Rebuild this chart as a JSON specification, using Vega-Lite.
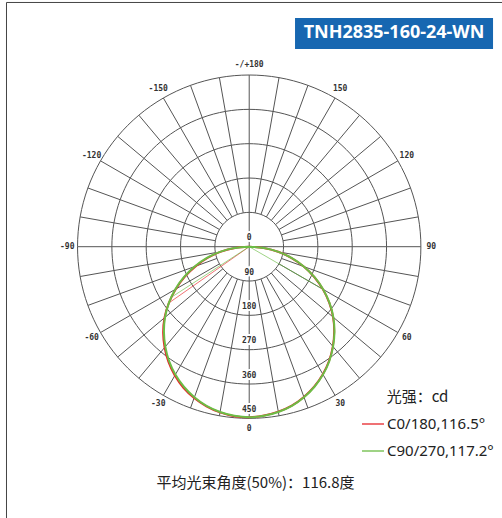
{
  "$schema": "https://vega.github.io/schema/vega-lite/v6.json",
  "width": 502,
  "height": 518,
  "autosize": {"type": "none"},
  "padding": 0,
  "background": "white",
  "config": {"view": {"stroke": null}},
  "datasets": {
    "rings": [
      {"r": 90, "a": [0,10,20,30,40,50,60,70,80,90,100,110,120,130,140,150,160,170,180,190,200,210,220,230,240,250,260,270,280,290,300,310,320,330,340,350]},
      {"r": 180, "a": [0,10,20,30,40,50,60,70,80,90,100,110,120,130,140,150,160,170,180,190,200,210,220,230,240,250,260,270,280,290,300,310,320,330,340,350]},
      {"r": 270, "a": [0,10,20,30,40,50,60,70,80,90,100,110,120,130,140,150,160,170,180,190,200,210,220,230,240,250,260,270,280,290,300,310,320,330,340,350]},
      {"r": 360, "a": [0,10,20,30,40,50,60,70,80,90,100,110,120,130,140,150,160,170,180,190,200,210,220,230,240,250,260,270,280,290,300,310,320,330,340,350]},
      {"r": 450, "a": [0,10,20,30,40,50,60,70,80,90,100,110,120,130,140,150,160,170,180,190,200,210,220,230,240,250,260,270,280,290,300,310,320,330,340,350]}
    ],
    "spokes": [
      {"a": 0, "r0": 0, "r1": 450}, {"a": 10, "r0": 90, "r1": 450}, {"a": 20, "r0": 90, "r1": 450},
      {"a": 30, "r0": 90, "r1": 450}, {"a": 40, "r0": 90, "r1": 450}, {"a": 50, "r0": 90, "r1": 450},
      {"a": 60, "r0": 90, "r1": 450}, {"a": 70, "r0": 90, "r1": 450}, {"a": 80, "r0": 90, "r1": 450},
      {"a": 90, "r0": 0, "r1": 450}, {"a": 100, "r0": 90, "r1": 450}, {"a": 110, "r0": 90, "r1": 450},
      {"a": 120, "r0": 90, "r1": 450}, {"a": 130, "r0": 90, "r1": 450}, {"a": 140, "r0": 90, "r1": 450},
      {"a": 150, "r0": 90, "r1": 450}, {"a": 160, "r0": 90, "r1": 450}, {"a": 170, "r0": 90, "r1": 450},
      {"a": 180, "r0": 0, "r1": 450}, {"a": 190, "r0": 90, "r1": 450}, {"a": 200, "r0": 90, "r1": 450},
      {"a": 210, "r0": 90, "r1": 450}, {"a": 220, "r0": 90, "r1": 450}, {"a": 230, "r0": 90, "r1": 450},
      {"a": 240, "r0": 90, "r1": 450}, {"a": 250, "r0": 90, "r1": 450}, {"a": 260, "r0": 90, "r1": 450},
      {"a": 270, "r0": 0, "r1": 450}, {"a": 280, "r0": 90, "r1": 450}, {"a": 290, "r0": 90, "r1": 450},
      {"a": 300, "r0": 90, "r1": 450}, {"a": 310, "r0": 90, "r1": 450}, {"a": 320, "r0": 90, "r1": 450},
      {"a": 330, "r0": 90, "r1": 450}, {"a": 340, "r0": 90, "r1": 450}, {"a": 350, "r0": 90, "r1": 450}
    ],
    "alab": [
      {"a": 0, "t": "0"}, {"a": 30, "t": "30"}, {"a": 60, "t": "60"}, {"a": 90, "t": "90"},
      {"a": 120, "t": "120"}, {"a": 150, "t": "150"}, {"a": 180, "t": "-/+180"},
      {"a": -150, "t": "-150"}, {"a": -120, "t": "-120"}, {"a": -90, "t": "-90"},
      {"a": -60, "t": "-60"}, {"a": -30, "t": "-30"}
    ],
    "ilab": [{"v": 0}, {"v": 90}, {"v": 180}, {"v": 270}, {"v": 360}, {"v": 450}],
    "beams": [
      {"s": "C0/180,116.5°", "a": -55, "i": 257},
      {"s": "C90/270,117.2°", "a": -57, "i": 243},
      {"s": "C90/270,117.2°", "a": 60, "i": 224}
    ],
    "curves": [
      {"s": "C0/180,116.5°", "a": -90, "i": 0}, {"s": "C0/180,116.5°", "a": -85, "i": 37},
      {"s": "C0/180,116.5°", "a": -80, "i": 75}, {"s": "C0/180,116.5°", "a": -75, "i": 112},
      {"s": "C0/180,116.5°", "a": -70, "i": 149}, {"s": "C0/180,116.5°", "a": -65, "i": 186},
      {"s": "C0/180,116.5°", "a": -60, "i": 222}, {"s": "C0/180,116.5°", "a": -55, "i": 257},
      {"s": "C0/180,116.5°", "a": -50, "i": 290}, {"s": "C0/180,116.5°", "a": -45, "i": 319},
      {"s": "C0/180,116.5°", "a": -40, "i": 345}, {"s": "C0/180,116.5°", "a": -35, "i": 369},
      {"s": "C0/180,116.5°", "a": -30, "i": 390}, {"s": "C0/180,116.5°", "a": -25, "i": 408},
      {"s": "C0/180,116.5°", "a": -20, "i": 422}, {"s": "C0/180,116.5°", "a": -15, "i": 433},
      {"s": "C0/180,116.5°", "a": -10, "i": 441}, {"s": "C0/180,116.5°", "a": -5, "i": 446},
      {"s": "C0/180,116.5°", "a": 0, "i": 447}, {"s": "C0/180,116.5°", "a": 5, "i": 444},
      {"s": "C0/180,116.5°", "a": 10, "i": 439}, {"s": "C0/180,116.5°", "a": 15, "i": 431},
      {"s": "C0/180,116.5°", "a": 20, "i": 419}, {"s": "C0/180,116.5°", "a": 25, "i": 404},
      {"s": "C0/180,116.5°", "a": 30, "i": 386}, {"s": "C0/180,116.5°", "a": 35, "i": 365},
      {"s": "C0/180,116.5°", "a": 40, "i": 341}, {"s": "C0/180,116.5°", "a": 45, "i": 315},
      {"s": "C0/180,116.5°", "a": 50, "i": 287}, {"s": "C0/180,116.5°", "a": 55, "i": 256},
      {"s": "C0/180,116.5°", "a": 60, "i": 223}, {"s": "C0/180,116.5°", "a": 65, "i": 188},
      {"s": "C0/180,116.5°", "a": 70, "i": 152}, {"s": "C0/180,116.5°", "a": 75, "i": 115},
      {"s": "C0/180,116.5°", "a": 80, "i": 77}, {"s": "C0/180,116.5°", "a": 85, "i": 38},
      {"s": "C0/180,116.5°", "a": 90, "i": 0},
      {"s": "C90/270,117.2°", "a": -90, "i": 0}, {"s": "C90/270,117.2°", "a": -85, "i": 39},
      {"s": "C90/270,117.2°", "a": -80, "i": 78}, {"s": "C90/270,117.2°", "a": -75, "i": 116},
      {"s": "C90/270,117.2°", "a": -70, "i": 153}, {"s": "C90/270,117.2°", "a": -65, "i": 189},
      {"s": "C90/270,117.2°", "a": -60, "i": 224}, {"s": "C90/270,117.2°", "a": -55, "i": 257},
      {"s": "C90/270,117.2°", "a": -50, "i": 288}, {"s": "C90/270,117.2°", "a": -45, "i": 316},
      {"s": "C90/270,117.2°", "a": -40, "i": 342}, {"s": "C90/270,117.2°", "a": -35, "i": 366},
      {"s": "C90/270,117.2°", "a": -30, "i": 387}, {"s": "C90/270,117.2°", "a": -25, "i": 405},
      {"s": "C90/270,117.2°", "a": -20, "i": 420}, {"s": "C90/270,117.2°", "a": -15, "i": 432},
      {"s": "C90/270,117.2°", "a": -10, "i": 440}, {"s": "C90/270,117.2°", "a": -5, "i": 445},
      {"s": "C90/270,117.2°", "a": 0, "i": 447}, {"s": "C90/270,117.2°", "a": 5, "i": 445},
      {"s": "C90/270,117.2°", "a": 10, "i": 440}, {"s": "C90/270,117.2°", "a": 15, "i": 432},
      {"s": "C90/270,117.2°", "a": 20, "i": 420}, {"s": "C90/270,117.2°", "a": 25, "i": 405},
      {"s": "C90/270,117.2°", "a": 30, "i": 387}, {"s": "C90/270,117.2°", "a": 35, "i": 366},
      {"s": "C90/270,117.2°", "a": 40, "i": 342}, {"s": "C90/270,117.2°", "a": 45, "i": 316},
      {"s": "C90/270,117.2°", "a": 50, "i": 288}, {"s": "C90/270,117.2°", "a": 55, "i": 257},
      {"s": "C90/270,117.2°", "a": 60, "i": 224}, {"s": "C90/270,117.2°", "a": 65, "i": 189},
      {"s": "C90/270,117.2°", "a": 70, "i": 153}, {"s": "C90/270,117.2°", "a": 75, "i": 116},
      {"s": "C90/270,117.2°", "a": 80, "i": 78}, {"s": "C90/270,117.2°", "a": 85, "i": 39},
      {"s": "C90/270,117.2°", "a": 90, "i": 0}
    ]
  },
  "layer": [
    {
      "data": {"name": "rings"},
      "transform": [
        {"flatten": ["a"]},
        {"calculate": "datum.r*sin(datum.a*PI/180)", "as": "x"},
        {"calculate": "-datum.r*cos(datum.a*PI/180)", "as": "y"}
      ],
      "mark": {"type": "line", "stroke": "#555555", "strokeWidth": 1, "interpolate": "cardinal-closed"},
      "encoding": {
        "x": {"field": "x", "type": "quantitative", "scale": {"domain": [-653.2, 662.6], "nice": false, "zero": false}, "axis": null},
        "y": {"field": "y", "type": "quantitative", "scale": {"domain": [-711.1, 646.6], "nice": false, "zero": false}, "axis": null},
        "detail": {"field": "r", "type": "nominal"},
        "order": {"field": "a", "type": "quantitative"}
      }
    },
    {
      "data": {"name": "spokes"},
      "transform": [
        {"calculate": "datum.r0*sin(datum.a*PI/180)", "as": "x0"},
        {"calculate": "-datum.r0*cos(datum.a*PI/180)", "as": "y0"},
        {"calculate": "datum.r1*sin(datum.a*PI/180)", "as": "x1"},
        {"calculate": "-datum.r1*cos(datum.a*PI/180)", "as": "y1"}
      ],
      "mark": {"type": "rule", "stroke": "#555555", "strokeWidth": 1},
      "encoding": {
        "x": {"field": "x0", "type": "quantitative", "scale": {"domain": [-653.2, 662.6], "nice": false, "zero": false}, "axis": null},
        "y": {"field": "y0", "type": "quantitative", "scale": {"domain": [-711.1, 646.6], "nice": false, "zero": false}, "axis": null},
        "x2": {"field": "x1"},
        "y2": {"field": "y1"}
      }
    },
    {
      "data": {"name": "alab"},
      "transform": [
        {"calculate": "477*sin(datum.a*PI/180)", "as": "x"},
        {"calculate": "-477*cos(datum.a*PI/180)", "as": "y"}
      ],
      "mark": {"type": "text", "font": "DejaVu Sans Mono", "fontWeight": "bold", "fontSize": 8, "fill": "#333333", "align": "center", "baseline": "middle"},
      "encoding": {
        "x": {"field": "x", "type": "quantitative", "scale": {"domain": [-653.2, 662.6], "nice": false, "zero": false}, "axis": null},
        "y": {"field": "y", "type": "quantitative", "scale": {"domain": [-711.1, 646.6], "nice": false, "zero": false}, "axis": null},
        "text": {"field": "t", "type": "nominal"}
      }
    },
    {
      "data": {"name": "ilab"},
      "transform": [{"calculate": "-datum.v", "as": "y"}, {"calculate": "0", "as": "x"}, {"calculate": "''+datum.v", "as": "t"}],
      "mark": {"type": "text", "font": "DejaVu Sans Mono", "fontWeight": "bold", "fontSize": 8, "fill": "white", "stroke": "white", "strokeWidth": 4, "align": "center", "baseline": "middle", "dy": -8.5},
      "encoding": {
        "x": {"field": "x", "type": "quantitative", "scale": {"domain": [-653.2, 662.6], "nice": false, "zero": false}, "axis": null},
        "y": {"field": "y", "type": "quantitative", "scale": {"domain": [-711.1, 646.6], "nice": false, "zero": false}, "axis": null},
        "text": {"field": "t", "type": "nominal"}
      }
    },
    {
      "data": {"name": "ilab"},
      "transform": [{"calculate": "-datum.v", "as": "y"}, {"calculate": "0", "as": "x"}, {"calculate": "''+datum.v", "as": "t"}],
      "mark": {"type": "text", "font": "DejaVu Sans Mono", "fontWeight": "bold", "fontSize": 8, "fill": "#333333", "align": "center", "baseline": "middle", "dy": -8.5},
      "encoding": {
        "x": {"field": "x", "type": "quantitative", "scale": {"domain": [-653.2, 662.6], "nice": false, "zero": false}, "axis": null},
        "y": {"field": "y", "type": "quantitative", "scale": {"domain": [-711.1, 646.6], "nice": false, "zero": false}, "axis": null},
        "text": {"field": "t", "type": "nominal"}
      }
    },
    {
      "data": {"name": "beams"},
      "transform": [
        {"calculate": "0", "as": "cx"},
        {"calculate": "0", "as": "cy"},
        {"calculate": "datum.i*sin(datum.a*PI/180)", "as": "bx"},
        {"calculate": "-datum.i*cos(datum.a*PI/180)", "as": "by"}
      ],
      "mark": {"type": "rule", "strokeWidth": 1, "opacity": 0.65},
      "encoding": {
        "x": {"field": "cx", "type": "quantitative", "scale": {"domain": [-653.2, 662.6], "nice": false, "zero": false}, "axis": null},
        "y": {"field": "cy", "type": "quantitative", "scale": {"domain": [-711.1, 646.6], "nice": false, "zero": false}, "axis": null},
        "x2": {"field": "bx"},
        "y2": {"field": "by"},
        "color": {"field": "s", "type": "nominal", "scale": {"domain": ["C0/180,116.5°", "C90/270,117.2°"], "range": ["#e8262a", "#6cbd45"]}}
      }
    },
    {
      "data": {"name": "curves"},
      "transform": [
        {"calculate": "datum.i*sin(datum.a*PI/180)", "as": "x"},
        {"calculate": "-datum.i*cos(datum.a*PI/180)", "as": "y"}
      ],
      "mark": {"type": "line", "strokeWidth": 2, "interpolate": "catmull-rom"},
      "encoding": {
        "x": {"field": "x", "type": "quantitative", "scale": {"domain": [-653.2, 662.6], "nice": false, "zero": false}, "axis": null},
        "y": {"field": "y", "type": "quantitative", "scale": {"domain": [-711.1, 646.6], "nice": false, "zero": false}, "axis": null},
        "order": {"field": "a", "type": "quantitative"},
        "color": {
          "field": "s", "type": "nominal",
          "scale": {"domain": ["C0/180,116.5°", "C90/270,117.2°"], "range": ["#e8262a", "#6cbd45"]},
          "legend": {
            "orient": "none", "legendX": 361, "legendY": 412, "title": null,
            "symbolType": "stroke", "symbolSize": 484, "symbolStrokeWidth": 2, "symbolOpacity": 1,
            "labelFont": "Noto Sans", "labelFontSize": 15, "labelColor": "#222222", "labelOffset": 2,
            "labelLimit": 300, "rowPadding": 7, "padding": 0
          }
        }
      }
    },
    {
      "data": {"values": [{"t": "frame"}]},
      "mark": {"type": "rule", "stroke": "#444444", "strokeWidth": 1},
      "encoding": {
        "x": {"datum": -636.2, "type": "quantitative", "scale": {"domain": [-653.2, 662.6], "nice": false, "zero": false}, "axis": null},
        "y": {"datum": 640.1, "type": "quantitative", "scale": {"domain": [-711.1, 646.6], "nice": false, "zero": false}, "axis": null},
        "y2": {"datum": -711.1}
      }
    },
    {
      "data": {"values": [{"t": "frame"}]},
      "mark": {"type": "rule", "stroke": "#444444", "strokeWidth": 1},
      "encoding": {
        "x": {"datum": -636.2, "type": "quantitative", "scale": {"domain": [-653.2, 662.6], "nice": false, "zero": false}, "axis": null},
        "x2": {"datum": 662.6},
        "y": {"datum": 640.1, "type": "quantitative", "scale": {"domain": [-711.1, 646.6], "nice": false, "zero": false}, "axis": null}
      }
    },
    {
      "data": {"values": [{"t": "TNH2835-160-24-WN"}]},
      "mark": {"type": "rect", "fill": "#1767b1"},
      "encoding": {
        "x": {"datum": 120.1, "type": "quantitative", "scale": {"domain": [-653.2, 662.6], "nice": false, "zero": false}, "axis": null},
        "x2": {"datum": 639.1},
        "y": {"datum": 599.5, "type": "quantitative", "scale": {"domain": [-711.1, 646.6], "nice": false, "zero": false}, "axis": null},
        "y2": {"datum": 518.2}
      }
    },
    {
      "data": {"values": [{"t": "TNH2835-160-24-WN"}]},
      "mark": {"type": "text", "font": "Noto Sans", "fontWeight": "bold", "fontSize": 18, "fill": "white", "align": "center", "baseline": "middle"},
      "encoding": {
        "x": {"datum": 379.6, "type": "quantitative", "scale": {"domain": [-653.2, 662.6], "nice": false, "zero": false}, "axis": null},
        "y": {"datum": 558.8, "type": "quantitative", "scale": {"domain": [-711.1, 646.6], "nice": false, "zero": false}, "axis": null},
        "text": {"field": "t", "type": "nominal"}
      }
    },
    {
      "data": {"values": [{"t": "光强：cd"}]},
      "mark": {"type": "text", "font": "Noto Sans CJK SC", "fontSize": 15, "fill": "#222222", "align": "left", "baseline": "middle"},
      "encoding": {
        "x": {"datum": 360.4, "type": "quantitative", "scale": {"domain": [-653.2, 662.6], "nice": false, "zero": false}, "axis": null},
        "y": {"datum": -394, "type": "quantitative", "scale": {"domain": [-711.1, 646.6], "nice": false, "zero": false}, "axis": null},
        "text": {"field": "t", "type": "nominal"}
      }
    },
    {
      "data": {"values": [{"t": "平均光束角度(50%)：116.8度"}]},
      "mark": {"type": "text", "font": "Noto Sans CJK SC", "fontSize": 15, "fill": "#222222", "align": "center", "baseline": "middle"},
      "encoding": {
        "x": {"datum": 16.5, "type": "quantitative", "scale": {"domain": [-653.2, 662.6], "nice": false, "zero": false}, "axis": null},
        "y": {"datum": -618.6, "type": "quantitative", "scale": {"domain": [-711.1, 646.6], "nice": false, "zero": false}, "axis": null},
        "text": {"field": "t", "type": "nominal"}
      }
    }
  ]
}
